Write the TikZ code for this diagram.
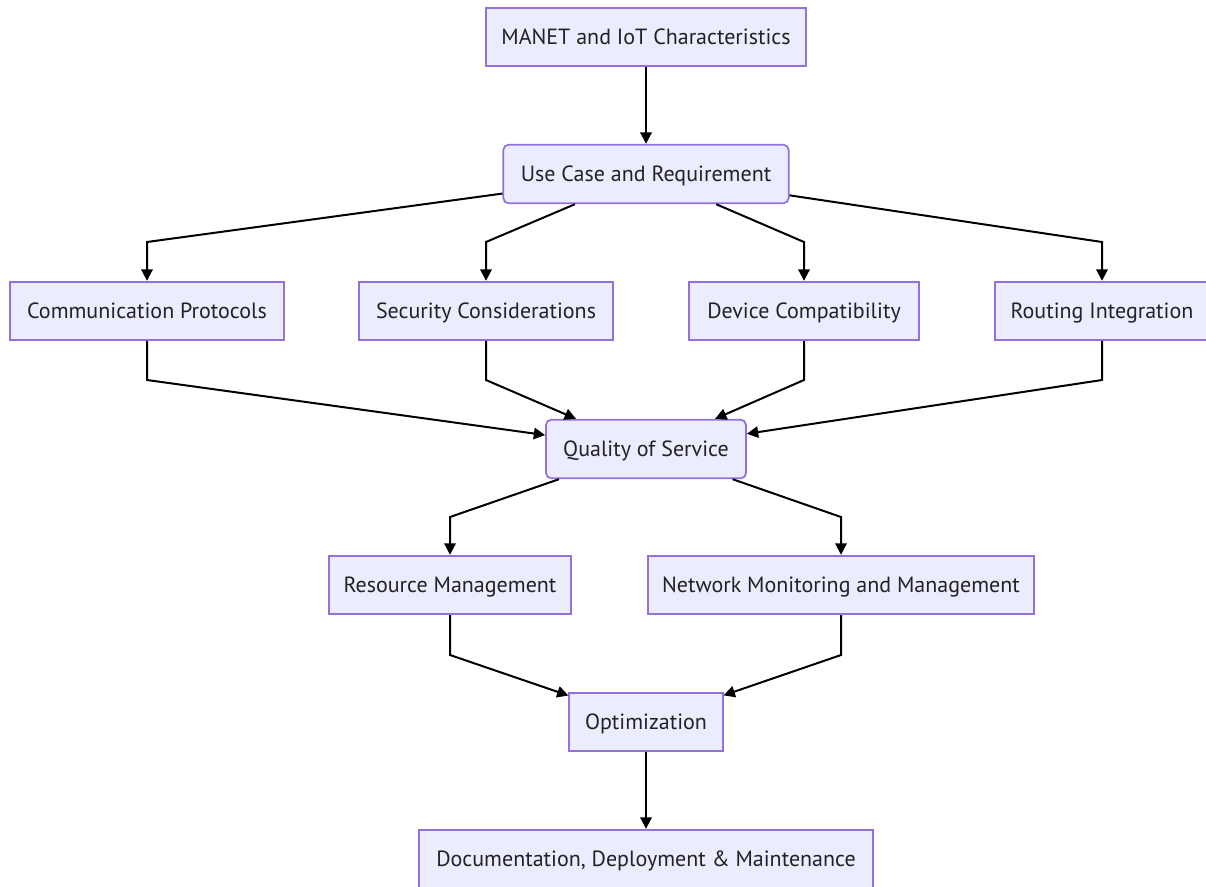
\documentclass[tikz,border=0pt]{standalone}
\usepackage{fontspec}
\setmainfont{PT Sans}
\usepackage{tikz}
\usetikzlibrary{arrows.meta}

\definecolor{boxfill}{HTML}{ECECFF}
\definecolor{boxline}{HTML}{9370DB}
\definecolor{txt}{HTML}{222222}

\tikzset{
    box/.style={draw=boxline, fill=boxfill, line width=1.3pt, text=txt,
        minimum height=44pt, inner sep=0pt, text height=11.5pt, text depth=0pt,
        font=\fontsize{16.5}{19}\selectfont},
    rbox/.style={box, rounded corners=4pt},
    arr/.style={line width=1.5pt, -{Triangle[length=8.5pt,width=8.5pt]}},
}

\begin{document}
\begin{tikzpicture}[x=0.75pt, y=-0.75pt]
        \useasboundingbox (0,0) rectangle (1206,886);
        \node [box, minimum width=240pt] (mc) at (646, 37) {MANET and IoT Characteristics};
        \node [rbox, minimum width=214pt] (uc) at (646, 174) {Use Case and Requirement};
        \node [box, minimum width=205pt] (cp) at (147, 311) {Communication Protocols};
        \node [box, minimum width=190pt] (sc) at (486, 311) {Security Considerations};
        \node [box, minimum width=172pt] (dc) at (804, 311) {Device Compatibility};
        \node [box, minimum width=160pt] (ri) at (1102, 311) {Routing Integration};
        \node [rbox, minimum width=150pt] (qs) at (646, 449) {Quality of Service};
        \node [box, minimum width=182pt] (rm) at (450, 585) {Resource Management};
        \node [box, minimum width=290pt] (nm) at (841, 585) {Network Monitoring and Management};
        \node [box, minimum width=115pt] (op) at (646, 722) {Optimization};
        \node [box, minimum width=340pt] (dd) at (646, 859) {Documentation, Deployment \& Maintenance};
        \draw [arr] (mc) -- (uc);
        \draw [arr] (uc) -- (cp |- 0,242) -- (cp);
        \draw [arr] (uc) -- (sc |- 0,242) -- (sc);
        \draw [arr] (uc) -- (dc |- 0,242) -- (dc);
        \draw [arr] (uc) -- (ri |- 0,242) -- (ri);
        \draw [arr] (cp) -- (cp |- 0,380) -- (qs);
        \draw [arr] (sc) -- (sc |- 0,380) -- (qs);
        \draw [arr] (dc) -- (dc |- 0,380) -- (qs);
        \draw [arr] (ri) -- (ri |- 0,380) -- (qs);
        \draw [arr] (qs) -- (rm |- 0,517) -- (rm);
        \draw [arr] (qs) -- (nm |- 0,517) -- (nm);
        \draw [arr] (rm) -- (rm |- 0,655) -- (op);
        \draw [arr] (nm) -- (nm |- 0,655) -- (op);
        \draw [arr] (op) -- (dd);
    \end{tikzpicture}
\end{document}
